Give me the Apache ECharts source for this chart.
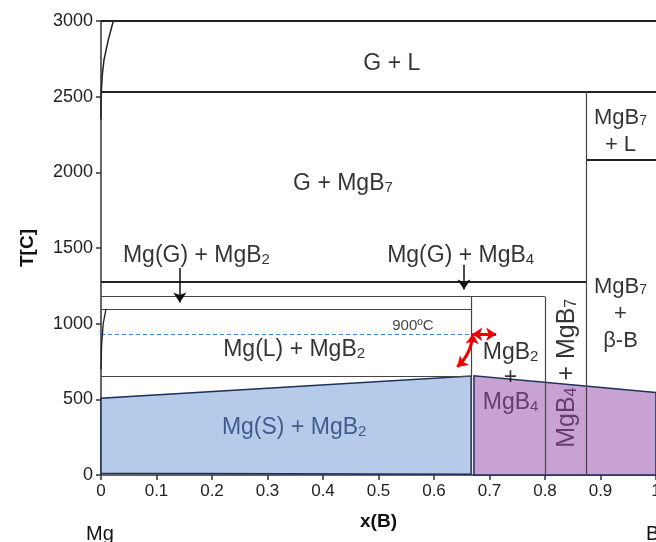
<!DOCTYPE html>
<html>
<head>
<meta charset="utf-8">
<script src="https://cdn.jsdelivr.net/npm/echarts@6/dist/echarts.min.js"></script>
<style>
  html, body { margin: 0; padding: 0; background: #fff; }
  #chart { width: 656px; height: 542px; }
</style>
</head>
<body>
<div id="chart"></div>
<script>
// axis ticks
const xTicks = [0, 0.1, 0.2, 0.3, 0.4, 0.5, 0.6, 0.7, 0.8, 0.9, 1]
const yTicks = [0, 500, 1000, 1500, 2000, 2500, 3000]

// phase boundaries: [x from, x to, T]
const hLinesBold = [[0, 1, 3000], [0, 1, 2535], [0.875, 1, 2080], [0, 0.875, 1277]]
const hLinesThin = [[0, 0.8, 1178], [0, 0.667, 1097], [0, 0.667, 650]]
// vertical: [x, T from, T to]
const vLines = [[0.667, 0, 1178], [0.8, 0, 1178], [0.875, 0, 2535]]

// curved boundaries near pure Mg
const gasCurve = [[0.0222, 3000], [0.0131, 2875], [0.0054, 2743], [0.0023, 2644], [0, 2500], [0, 2350]]
const liqCurve = [[0.009, 1097], [0.004, 1000], [0.001, 850], [0, 700]]

// shaded solid regions (vertices)
const solidMgRegion = [[0, 12], [0, 507], [0.667, 654], [0.667, 5]]
const solidBRegion = [[0.672, 0], [0.672, 655], [1, 545], [1, 0]]

// 900 C line
const line900 = [[0, 930], [0.667, 930]]

// arrows
const blackArrows = [[[0.142, 1368], [0.142, 1140]], [[0.654, 1390], [0.654, 1225]]]
const redArrows = [[[0.669, 930], [0.712, 930]], [[0.642, 714], [0.670, 932]]]

// region labels: [x, T, text]
const regionLabels = [
  [0.524, 2743, '{n|G + L}'],
  [0.436, 1950, '{n|G + MgB}{s|7}'],
  [0.936, 2290, '{m|MgB}{ms|7}\n{m|+ L}'],
  [0.172, 1474, '{n|Mg(G) + MgB}{s|2}'],
  [0.648, 1474, '{n|Mg(G) + MgB}{s|4}'],
  [0.936, 1084, '{m|MgB}{ms|7}\n{m|+}\n{m|\u03b2-B}'],
  [0.348, 853, '{n|Mg(L) + MgB}{s|2}'],
  [0.738, 650, '{k|MgB}{ks|2}\n{k|+}\n{p|MgB}{ps|4}'],
  [0.348, 337, '{b|Mg(S) + MgB}{bs|2}']
]
const rotatedLabel = [0.835, 672, '{r|MgB}{rs|4}{rn| + MgB}{rns|7}']
const tempLabel = [0.562, 985, '900\u00baC']

const FONT = 'Liberation Sans'
const chart = echarts.init(document.getElementById('chart'))

const seg = (a, b) => ({ coords: [a, b] })

const tok = (size, color, lh) => ({ fontFamily: FONT, fontSize: size, color: color, lineHeight: lh, verticalAlign: 'bottom' })
const richStyles = {
  n: tok(23, '#000', 30),
  s: tok(15, '#000', 16),
  m: tok(22, '#000', 27),
  ms: tok(14, '#000', 14),
  k: tok(23, '#000', 25),
  ks: tok(15, '#000', 13),
  p: tok(23, '#4f2458', 25),
  ps: tok(15, '#4f2458', 13),
  r: tok(25, '#4f2458', 30),
  rs: tok(16, '#4f2458', 16),
  rn: tok(25, '#000', 30),
  rns: tok(16, '#000', 16),
  b: tok(23, '#233f74', 30),
  bs: tok(15, '#233f74', 16)
}

function polygonSeries (pts, fill) {
  return {
    type: 'custom',
    coordinateSystem: 'cartesian2d',
    silent: true,
    data: [[pts[0][0], pts[0][1]]],
    renderItem: (params, api) => ({
      type: 'polygon',
      shape: { points: pts.map(p => api.coord(p)) },
      style: { fill: fill, stroke: '#1d2f5c', lineWidth: 1.5 }
    }),
    z: 1
  }
}

const option = {
  animation: false,
  grid: { left: 101, right: 0, top: 21, bottom: 67, outerBoundsMode: 'none' },
  xAxis: {
    type: 'value',
    min: xTicks[0],
    max: xTicks[xTicks.length - 1],
    interval: 0.1,
    name: 'x(B)',
    nameLocation: 'middle',
    nameGap: 37,
    nameTextStyle: { fontFamily: FONT, fontSize: 19, fontWeight: 'bold', color: '#111' },
    splitLine: { show: false },
    axisLine: { onZero: false, lineStyle: { color: '#333', width: 1.5 } },
    axisTick: { length: 5, lineStyle: { color: '#333', width: 1.5 } },
    axisLabel: { fontFamily: FONT, fontSize: 17, color: '#222', margin: 8 }
  },
  yAxis: {
    type: 'value',
    min: yTicks[0],
    max: yTicks[yTicks.length - 1],
    interval: 500,
    name: 'T[C]',
    nameLocation: 'middle',
    nameRotate: 90,
    nameGap: 64,
    nameTextStyle: { fontFamily: FONT, fontSize: 19, fontWeight: 'bold', color: '#111' },
    splitLine: { show: false },
    axisLine: { lineStyle: { color: '#333', width: 1.5 } },
    axisTick: { length: 5, lineStyle: { color: '#333', width: 1.5 } },
    axisLabel: { fontFamily: FONT, fontSize: 18, color: '#222', margin: 8, formatter: v => String(v) }
  },
  graphic: [
    { type: 'text', left: 86, top: 524, style: { text: 'Mg', fontFamily: FONT, fontSize: 20, fill: '#111' } },
    { type: 'text', left: 646, top: 524, style: { text: 'B', fontFamily: FONT, fontSize: 20, fill: '#111' } }
  ],
  series: [
    polygonSeries(solidMgRegion, '#b6cbe9'),
    polygonSeries(solidBRegion, '#c8a2d3'),
    {
      type: 'lines',
      coordinateSystem: 'cartesian2d',
      silent: true,
      z: 3,
      lineStyle: { color: '#222', width: 1.8, opacity: 1 },
      data: hLinesBold.map(l => seg([l[0], l[2]], [l[1], l[2]]))
    },
    {
      type: 'lines',
      coordinateSystem: 'cartesian2d',
      silent: true,
      z: 3,
      lineStyle: { color: '#444', width: 1.2, opacity: 1 },
      data: hLinesThin.map(l => seg([l[0], l[2]], [l[1], l[2]]))
        .concat(vLines.map(l => seg([l[0], l[1]], [l[0], l[2]])))
    },
    {
      type: 'line',
      silent: true,
      showSymbol: false,
      z: 3,
      lineStyle: { color: '#222', width: 1.5 },
      data: gasCurve
    },
    {
      type: 'line',
      silent: true,
      showSymbol: false,
      z: 3,
      lineStyle: { color: '#222', width: 1.3 },
      data: liqCurve
    },
    {
      type: 'lines',
      coordinateSystem: 'cartesian2d',
      silent: true,
      z: 3,
      lineStyle: { color: '#3b82e0', width: 1, type: [4, 3], opacity: 1 },
      data: [seg(line900[0], line900[1])]
    },
    {
      type: 'lines',
      coordinateSystem: 'cartesian2d',
      silent: true,
      z: 4,
      symbol: ['none', 'arrow'],
      symbolSize: 10,
      lineStyle: { color: '#111', width: 1.5, opacity: 1 },
      data: blackArrows.map(a => seg(a[0], a[1]))
    },
    {
      type: 'lines',
      coordinateSystem: 'cartesian2d',
      silent: true,
      z: 4,
      symbol: ['arrow', 'arrow'],
      symbolSize: 10,
      lineStyle: { color: '#f00000', width: 3, opacity: 1 },
      data: [
        { coords: redArrows[0] },
        { coords: redArrows[1], lineStyle: { curveness: -0.2 } }
      ]
    },
    {
      type: 'scatter',
      silent: true,
      z: 5,
      symbolSize: 0,
      label: { show: true, position: 'inside', align: 'center', rich: richStyles },
      data: regionLabels.map(l => ({
        value: [l[0], l[1]],
        label: { formatter: l[2] }
      })).concat([
        { value: [rotatedLabel[0], rotatedLabel[1]], label: { formatter: rotatedLabel[2], rotate: 90 } },
        {
          value: [tempLabel[0], tempLabel[1]],
          label: { formatter: tempLabel[2], fontFamily: FONT, fontSize: 15, color: '#111' }
        }
      ])
    }
  ]
}

chart.setOption(option)
</script>
</body>
</html>
